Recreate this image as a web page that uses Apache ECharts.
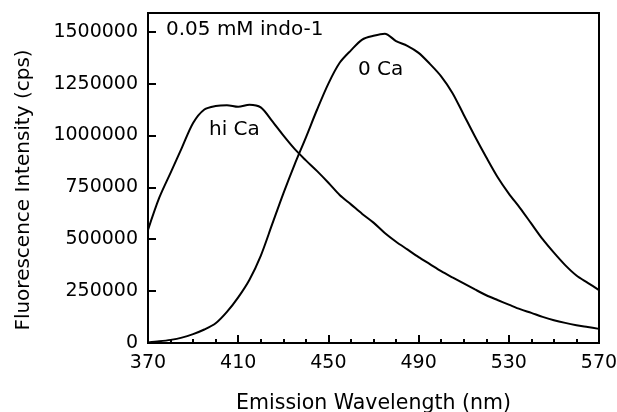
<!DOCTYPE html>
<html><head><meta charset="utf-8">
<script src="https://cdn.jsdelivr.net/npm/echarts@6/dist/echarts.min.js"></script>
<style>html,body{margin:0;padding:0;background:#fff}#c{width:617px;height:412px}</style>
</head><body><div id="c"></div>
<script>
const wavelengths = [370,375,380,385,390,395,400,405,410,415,420,425,430,435,440,445,450,455,460,465,470,475,480,485,490,495,500,505,510,515,520,525,530,535,540,545,550,555,560,565,570];
const hiCa = [545000,700000,820000,940000,1060000,1125000,1142000,1146000,1138000,1148000,1135000,1070000,1000000,935000,880000,828000,772000,713000,668000,622000,580000,530000,488000,451000,414000,380000,346000,316000,287000,258000,230000,207000,185000,163000,145000,126000,110000,97000,86000,77000,68000];
const zeroCa = [3000,8000,15000,26000,43000,65000,95000,150000,220000,305000,420000,570000,720000,860000,990000,1125000,1250000,1350000,1410000,1462000,1480000,1490000,1455000,1432000,1398000,1345000,1285000,1205000,1100000,995000,895000,800000,720000,650000,575000,500000,435000,375000,325000,290000,255000];
const xTicks = [370,410,450,490,530,570];
const yTicks = [0,250000,500000,750000,1000000,1250000,1500000];
const seriesNames = ['hi Ca','0 Ca'];

const X0 = xTicks[0];
const toPts = arr => wavelengths.map((w,i)=>[w - X0, arr[i]]);
const font = 'DejaVu Sans';
const chart = echarts.init(document.getElementById('c'), null, {renderer:'canvas'});
chart.setOption({
  animation:false,
  backgroundColor:'#fff',
  grid:{left:148,right:18,top:13,bottom:69,containLabel:false,outerBoundsMode:'none',show:true,borderColor:'#000',borderWidth:2},
  xAxis:{
    type:'value', min:0, max:xTicks[xTicks.length-1]-X0, interval:xTicks[1]-xTicks[0],
    name:'Emission Wavelength (nm)', nameLocation:'middle', nameGap:50,
    nameTextStyle:{fontFamily:font,fontSize:20.5,color:'#000'},
    axisLine:{lineStyle:{color:'#000',width:2}},
    axisTick:{inside:true,length:8,lineStyle:{color:'#000',width:2}},
    minorTick:{show:true,splitNumber:4,length:4,lineStyle:{color:'#000',width:2}},
    splitLine:{show:false},
    axisLabel:{fontFamily:font,fontSize:19,color:'#000',margin:11,formatter:v=>String(v+X0)}
  },
  yAxis:{
    type:'value', min:0, max:1590000, interval:yTicks[1]-yTicks[0],
    name:'Fluorescence Intensity (cps)', nameLocation:'middle', nameGap:114, nameRotate:90,
    nameTextStyle:{fontFamily:font,fontSize:20,color:'#000',padding:[0,0,0,-24]},
    axisLine:{lineStyle:{color:'#000',width:2}},
    axisTick:{inside:true,length:8,lineStyle:{color:'#000',width:2}},
    splitLine:{show:false},
    axisLabel:{fontFamily:font,fontSize:19,color:'#000',margin:10,showMaxLabel:false,
      formatter:v=>(yTicks.indexOf(v)>=0?String(v):'')}
  },
  graphic:[
    {type:'text',left:166,top:20,style:{text:'0.05 mM indo-1',font:'20px "DejaVu Sans"',fill:'#000'}},
    {type:'text',left:358,top:60,style:{text:'0 Ca',font:'20px "DejaVu Sans"',fill:'#000'}},
    {type:'text',left:209,top:120,style:{text:'hi Ca',font:'20px "DejaVu Sans"',fill:'#000'}}
  ],
  series:[
    {name:seriesNames[0],type:'line',data:toPts(hiCa),showSymbol:false,smooth:0.3,lineStyle:{color:'#000',width:2}},
    {name:seriesNames[1],type:'line',data:toPts(zeroCa),showSymbol:false,smooth:0.3,lineStyle:{color:'#000',width:2}}
  ]
});
</script></body></html>
